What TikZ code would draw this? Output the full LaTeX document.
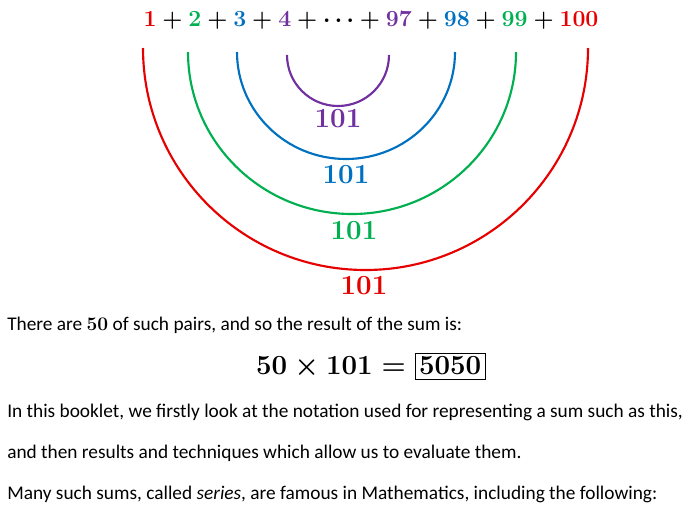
\documentclass[tikz,border=0pt]{standalone}
\usepackage{fontspec}
\setmainfont{Carlito}
\usepackage{amsmath}
\usetikzlibrary{positioning}
\definecolor{cred}{RGB}{230,0,0}
\definecolor{cgreen}{RGB}{0,176,80}
\definecolor{cblue}{RGB}{0,112,192}
\definecolor{cpurple}{RGB}{112,48,160}
\newcommand{\cn}[2]{{\color{#1}#2}}
\begin{document}
\begin{tikzpicture}[x=0.75pt,y=-0.75pt,
  arc/.style={line width=1.6pt},
  lab/.style={font=\fontsize{19.5}{22}\selectfont\boldmath,inner sep=0pt},
  txt/.style={font=\fontsize{14.5}{17}\selectfont,anchor=west,inner sep=0pt}]
\useasboundingbox (0,0) rectangle (692,519);
% the sum
\node[lab,font=\fontsize{17.8}{20}\selectfont\boldmath] (sum) at (371,21) {$\cn{cred}{1}+\cn{cgreen}{2}+\cn{cblue}{3}+\cn{cpurple}{4}+\cdots+\cn{cpurple}{97}+\cn{cblue}{98}+\cn{cgreen}{99}+\cn{cred}{100}$};
% arcs joining the pairs
\coordinate (r) at (143,48);
\coordinate (g) at (188,52);
\coordinate (b) at (237,52);
\coordinate (p) at (287,55);
\draw[arc,cred] (r) arc[start angle=180,end angle=0,x radius=222.5,y radius=222];
\draw[arc,cgreen] (g) arc[start angle=180,end angle=0,x radius=164,y radius=162];
\draw[arc,cblue] (b) arc[start angle=180,end angle=0,x radius=109,y radius=107];
\draw[arc,cpurple] (p) arc[start angle=180,end angle=0,x radius=51,y radius=51];
\node[lab,text=cpurple] (s1) at (338,119) {$101$};
\node[lab,text=cblue] (s2) at (346,175) {$101$};
\node[lab,text=cgreen] (s3) at (354,231) {$101$};
\node[lab,text=cred] (s4) at (364,286) {$101$};
% text below
\node[txt] (t1) at (7,325) {There are $\boldsymbol{50}$ of such pairs, and so the result of the sum is:};
\node[lab,font=\fontsize{20}{24}\selectfont\boldmath] (res) at (371,366) {$50\times101=\fbox{$5050$}$};
\node[txt] (t2) at (7,412) {In this booklet, we firstly look at the notation used for representing a sum such as this,};
\node[txt] (t3) at (7,453) {and then results and techniques which allow us to evaluate them.};
\node[txt] (t4) at (7,494) {Many such sums, called \emph{series}, are famous in Mathematics, including the following:};
\end{tikzpicture}
\end{document}
